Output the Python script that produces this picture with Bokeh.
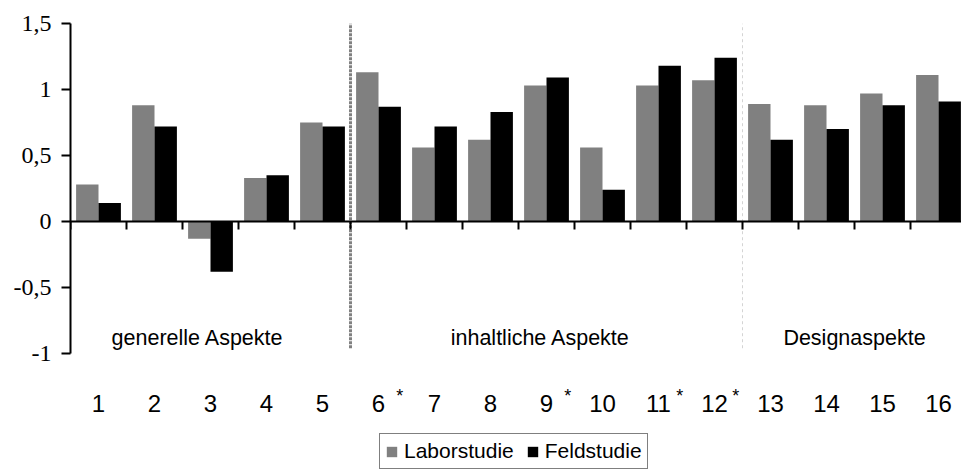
import numpy as np
from bokeh.plotting import figure
from bokeh.models import (Range1d, LinearAxis, FixedTicker, Legend, LegendItem,
                          ColumnDataSource)
from bokeh.core.properties import value
from bokeh.embed import file_html
from bokeh.resources import INLINE

# ---- data ----
categories = [str(i) for i in range(1, 17)]
laborstudie = [0.28, 0.88, -0.13, 0.33, 0.75, 1.13, 0.56, 0.62, 1.03, 0.56, 1.03, 1.07, 0.89, 0.88, 0.97, 1.11]
feldstudie = [0.14, 0.72, -0.38, 0.35, 0.72, 0.87, 0.72, 0.83, 1.09, 0.24, 1.18, 1.24, 0.62, 0.70, 0.88, 0.91]
significant = ["6", "9", "11", "12"]
groups = ["generelle Aspekte", "inhaltliche Aspekte", "Designaspekte"]
group_sizes = [5, 7, 4]
y_ticks = [-1.0, -0.5, 0.0, 0.5, 1.0, 1.5]
y_tick_labels = ["-1", "-0,5", "0", "0,5", "1", "1,5"]

GRAY = "#808080"
SANS = "Liberation Sans"
SERIF = "Liberation Serif"

n = len(categories)
centers = [i + 0.5 for i in range(n)]
bar_w = 0.4

# ---- layout constants ----
width, height = 961, 470
frame_left, frame_top = 70, 23
cat_px = 56          # pixels per category
unit_px = 132        # pixels per 1.0 on the value axis
y_top = y_ticks[-1]
y_bottom = y_top - (height - frame_top) / unit_px
group_label_shift = [-0.23, -0.11, 0.0]   # manual text-box nudges (in categories)

src = ColumnDataSource(dict(
    x_lab=[c - bar_w / 2 for c in centers],
    x_feld=[c + bar_w / 2 for c in centers],
    lab=laborstudie, feld=feldstudie,
))

p = figure(width=width, height=height, output_backend="svg", toolbar_location=None,
           x_range=Range1d(0, (width - frame_left) / cat_px),
           y_range=Range1d(y_bottom, y_top),
           x_axis_location=None, min_border_left=frame_left, min_border_right=0,
           min_border_top=frame_top, min_border_bottom=0)
p.outline_line_color = None
p.xgrid.grid_line_color = None
p.ygrid.grid_line_color = None
p.background_fill_color = "white"
p.border_fill_color = "white"

r_lab = p.vbar(x="x_lab", width=bar_w, top="lab", bottom=0, source=src,
               fill_color=GRAY, line_color=None)
r_feld = p.vbar(x="x_feld", width=bar_w, top="feld", bottom=0, source=src,
                fill_color="black", line_color=None)

# group separators
bounds = np.cumsum(group_sizes)
p.segment(x0=[float(bounds[0])], x1=[float(bounds[0])], y0=[y_ticks[0] + 0.04], y1=[y_ticks[-1]],
          line_color=GRAY, line_width=3, line_dash="3 1")
p.segment(x0=[float(bounds[1])], x1=[float(bounds[1])], y0=[y_ticks[0] + 0.04], y1=[y_ticks[-1]],
          line_color="#d4d4d4", line_width=1, line_dash="3 3")

# group labels
starts = np.concatenate([[0], bounds[:-1]])
gcenters = [float(s + e) / 2 + d for s, e, d in zip(starts, bounds, group_label_shift)]
p.text(x=gcenters, y=[-0.88] * len(groups), text=groups,
       text_font=value(SANS), text_font_size=value("21.5px"),
       text_align="center", text_baseline="alphabetic", text_color="black")

# category labels below the value axis
p.text(x=centers, y=[-1.375] * n, text=categories,
       text_font=value(SANS), text_font_size=value("24px"),
       text_align="center", text_baseline="alphabetic", text_color="black")

# significance stars
star_x = [c + 0.38 for c, cat in zip(centers, categories) if cat in significant]
p.text(x=star_x, y=[-1.322] * len(star_x), text=["*"] * len(star_x),
       text_font=value(SANS), text_font_size=value("18px"),
       text_align="center", text_baseline="alphabetic", text_color="black")

# y axis
ya = p.yaxis[0]
ya.bounds = (y_ticks[0], y_ticks[-1])
ya.ticker = FixedTicker(ticks=y_ticks)
ya.major_label_overrides = dict(zip(y_ticks, y_tick_labels))
ya.major_label_text_font = SERIF
ya.major_label_text_font_size = "24px"
ya.major_label_text_color = "black"
ya.major_tick_out = 9
ya.major_tick_in = 0
ya.minor_tick_line_color = None
ya.axis_line_width = 2
ya.major_tick_line_width = 2
ya.axis_line_color = "black"
ya.major_tick_line_color = "black"
ya.major_label_standoff = 10

# zero line with category boundary ticks
zero_ticks = list(range(0, n + 1))
xa_zero = LinearAxis(fixed_location=0, ticker=FixedTicker(ticks=zero_ticks),
                     major_label_overrides={t: "" for t in zero_ticks})
xa_zero.major_label_text_font_size = "1px"
xa_zero.major_label_standoff = 0
xa_zero.major_tick_out = 0
xa_zero.major_tick_in = 8
xa_zero.minor_tick_line_color = None
xa_zero.axis_line_width = 2
xa_zero.major_tick_line_width = 2
xa_zero.axis_line_color = "black"
xa_zero.major_tick_line_color = "black"
p.add_layout(xa_zero, "above")

legend = Legend(items=[LegendItem(label="Laborstudie", renderers=[r_lab]),
                       LegendItem(label="Feldstudie", renderers=[r_feld])],
                orientation="horizontal", location=(309, 1))
legend.border_line_color = "black"
legend.border_line_width = 1
legend.background_fill_color = "white"
legend.background_fill_alpha = 1
legend.label_text_font = SANS
legend.label_text_font_size = "21px"
legend.label_text_color = "black"
legend.glyph_width = 13
legend.glyph_height = 13
legend.label_standoff = 6
legend.spacing = 12
legend.padding = 5
legend.margin = 0
legend.label_height = 22
p.add_layout(legend, "center")

open("out.html", "w").write(file_html(p, INLINE))
